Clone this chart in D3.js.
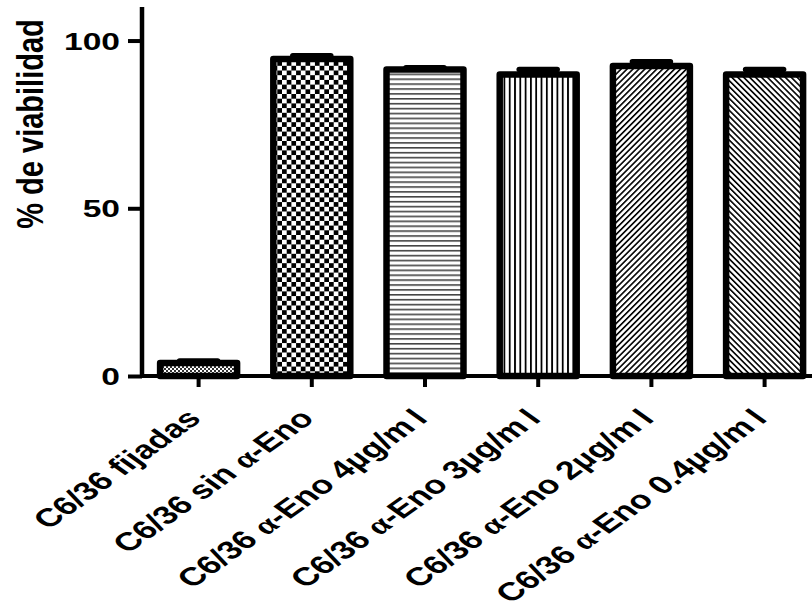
<!DOCTYPE html>
<html>
<head>
<meta charset="utf-8">
<script src="https://cdn.jsdelivr.net/npm/d3@7"></script>
<style>
  body { margin: 0; background: #fff; }
  text { font-family: "Liberation Sans", Arial, sans-serif; font-weight: bold; fill: #000; }
</style>
</head>
<body>
<svg id="chart" width="812" height="615"></svg>
<script>
// data
var categories = ["C6/36 fijadas", "C6/36 sin α-Eno", "C6/36 α-Eno 4µg/ml",
                  "C6/36 α-Eno 3µg/ml", "C6/36 α-Eno 2µg/ml", "C6/36 α-Eno 0.4µg/ml"];
var means = [3.9, 94.5, 91.4, 89.9, 92.4, 89.9];
var sems = [0.6, 1.0, 0.5, 1.5, 1.3, 1.5];
var yTicks = [0, 50, 100];
var fills = ["fine-check", "check", "hlines", "vlines", "diag-up", "diag-down"];

var SX = 1.4; // the original figure is stretched sideways

var svg = d3.select("#chart");

var x = d3.scaleBand()
    .domain(categories)
    .range([142, 142 + 6 * 113.2])
    .paddingInner(0.32)
    .paddingOuter(0.16);

var y = d3.scaleLinear()
    .domain([0, 110])
    .range([376, 7]);

// hatch patterns
var defs = svg.append("defs");

var p = defs.append("pattern").attr("id", "fine-check")
    .attr("patternUnits", "userSpaceOnUse").attr("width", 4).attr("height", 4);
p.append("rect").attr("width", 4).attr("height", 4).attr("fill", "#fff");
p.append("rect").attr("width", 2).attr("height", 2).attr("fill", "#333");
p.append("rect").attr("x", 2).attr("y", 2).attr("width", 2).attr("height", 2).attr("fill", "#333");

p = defs.append("pattern").attr("id", "check")
    .attr("patternUnits", "userSpaceOnUse").attr("width", 9.4).attr("height", 9.4);
p.append("rect").attr("width", 9.4).attr("height", 9.4).attr("fill", "#fff");
p.append("rect").attr("width", 4.7).attr("height", 4.7).attr("fill", "#000");
p.append("rect").attr("x", 4.7).attr("y", 4.7).attr("width", 4.7).attr("height", 4.7).attr("fill", "#000");

p = defs.append("pattern").attr("id", "hlines")
    .attr("patternUnits", "userSpaceOnUse").attr("width", 10).attr("height", 4.9);
p.append("rect").attr("width", 10).attr("height", 4.9).attr("fill", "#fff");
p.append("rect").attr("y", 0).attr("width", 10).attr("height", 1.6).attr("fill", "#444");

p = defs.append("pattern").attr("id", "vlines")
    .attr("patternUnits", "userSpaceOnUse").attr("width", 5.3).attr("height", 10);
p.append("rect").attr("width", 5.3).attr("height", 10).attr("fill", "#fff");
p.append("rect").attr("width", 1.8).attr("height", 10).attr("fill", "#000");

p = defs.append("pattern").attr("id", "diag-up")
    .attr("patternUnits", "userSpaceOnUse").attr("width", 4.2).attr("height", 4.2)
    .attr("patternTransform", "rotate(45)");
p.append("rect").attr("width", 4.2).attr("height", 4.2).attr("fill", "#fff");
p.append("rect").attr("width", 1.6).attr("height", 4.2).attr("fill", "#000");

p = defs.append("pattern").attr("id", "diag-down")
    .attr("patternUnits", "userSpaceOnUse").attr("width", 4.2).attr("height", 4.2)
    .attr("patternTransform", "rotate(-45)");
p.append("rect").attr("width", 4.2).attr("height", 4.2).attr("fill", "#fff");
p.append("rect").attr("width", 1.6).attr("height", 4.2).attr("fill", "#000");

// bars
var bar = svg.selectAll(".bar")
    .data(categories)
    .enter().append("g")
    .attr("class", "bar");

// error bars (upper only)
bar.append("line")
    .attr("x1", function(d) { return x(d) + x.bandwidth() / 2; })
    .attr("x2", function(d) { return x(d) + x.bandwidth() / 2; })
    .attr("y1", function(d, i) { return y(means[i]); })
    .attr("y2", function(d, i) { return y(means[i] + sems[i]); })
    .attr("stroke", "#000").attr("stroke-width", 5.5);

bar.append("line")
    .attr("x1", function(d) { return x(d) + x.bandwidth() / 2 - 19; })
    .attr("x2", function(d) { return x(d) + x.bandwidth() / 2 + 19; })
    .attr("y1", function(d, i) { return y(means[i] + sems[i]); })
    .attr("y2", function(d, i) { return y(means[i] + sems[i]); })
    .attr("stroke", "#000").attr("stroke-width", 5.5)
    .attr("stroke-linecap", "round");

bar.append("rect")
    .attr("x", function(d) { return x(d); })
    .attr("y", function(d, i) { return y(means[i]); })
    .attr("width", x.bandwidth())
    .attr("height", function(d, i) { return y(0) - y(means[i]); })
    .attr("fill", function(d, i) { return "url(#" + fills[i] + ")"; })
    .attr("stroke", "#000")
    .attr("stroke-width", 6.5)
    .attr("stroke-linejoin", "round");

// y axis
var yAxis = svg.append("g")
    .attr("transform", "translate(142,0)")
    .call(d3.axisLeft(y).tickValues(yTicks).tickSize(14).tickPadding(8).tickSizeOuter(0));

yAxis.select(".domain").attr("stroke-width", 4.5).attr("d", "M0," + (y(0) + 2) + "V" + y(110));
yAxis.selectAll(".tick line").attr("stroke-width", 4);
yAxis.selectAll(".tick text")
    .attr("x", null).attr("dy", null)
    .attr("transform", "translate(-22,8.5) scale(" + SX + ",1)")
    .style("font-size", "24px");

// x axis
var xAxis = svg.append("g")
    .attr("transform", "translate(0," + y(0) + ")")
    .call(d3.axisBottom(x).tickSize(11).tickSizeOuter(0).tickFormat(""));

xAxis.select(".domain").attr("stroke-width", 4).attr("d", "M140,0H812");
xAxis.selectAll(".tick line").attr("stroke-width", 4);

// rotated category labels, alpha set in a serif face
var labels = svg.append("g").selectAll("text")
    .data(categories)
    .enter().append("text")
    .attr("text-anchor", "end")
    .attr("transform", function(d) {
        return "translate(" + (x(d) + x.bandwidth() / 2 + 4) + ",420) scale(" + SX + ",1) rotate(-45)";
    })
    .style("font-size", "25.5px");

labels.each(function(d) {
    var t = d3.select(this);
    var parts = d.split("α");
    var tail = parts[parts.length - 1];
    if (parts.length > 1) {
        t.append("tspan").text(parts[0]);
        t.append("tspan")
            .style("font-family", "'Liberation Serif', 'Times New Roman', serif")
            .text("α");
    }
    if (/ml$/.test(tail)) {
        // the original leaves a gap between m and l
        t.append("tspan").text(tail.slice(0, -1));
        t.append("tspan").attr("dx", 5).text("l");
    } else {
        t.append("tspan").text(tail);
    }
});

// y title
svg.append("text")
    .attr("text-anchor", "middle")
    .attr("transform", "translate(43,124) scale(1.3,1) rotate(-90)")
    .style("font-size", "29px")
    .text("% de viabilidad");
</script>
</body>
</html>
